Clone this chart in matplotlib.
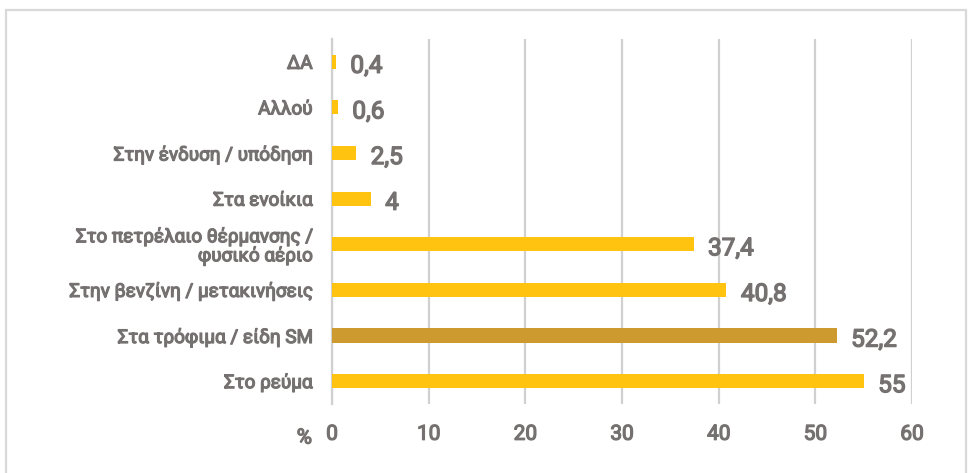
import matplotlib.pyplot as plt
import matplotlib.patheffects as pe
from matplotlib.patches import Rectangle

categories = ["ΔΑ", "Αλλού", "Στην ένδυση / υπόδηση", "Στα ενοίκια",
              "Στο πετρέλαιο θέρμανσης /\nφυσικό αέριο", "Στην βενζίνη / μετακινήσεις",
              "Στα τρόφιμα / είδη SM", "Στο ρεύμα"]
values = [0.4, 0.6, 2.5, 4, 37.4, 40.8, 52.2, 55]
value_labels = ["0,4", "0,6", "2,5", "4", "37,4", "40,8", "52,2", "55"]
highlight = "Στα τρόφιμα / είδη SM"

gray = "#767171"
plt.rcParams['font.family'] = ['Roboto', 'DejaVu Sans']
bold = [pe.withStroke(linewidth=0.9, foreground=gray)]

fig = plt.figure(figsize=(9.72, 4.73), dpi=100)
ax = fig.add_axes([0.3416, 0.146, 0.5967, 0.7717])

colors = ["#CC9A2E" if c == highlight else "#FFC310" for c in categories]
pos = list(range(len(categories)))
ax.barh(pos, values, height=0.31, color=colors, zorder=3)
for p, v, lab in zip(pos, values, value_labels):
    ax.text(v + 1.5, p + 0.1, lab, va="center", ha="left", fontsize=17.5,
            color=gray, path_effects=[pe.withStroke(linewidth=1.0, foreground=gray)])

ax.set_ylim(7.5, -0.5)
ax.set_xlim(0, 60)
ax.set_xticks(range(0, 61, 10))
ax.set_yticks(pos)
ax.set_yticklabels(categories, fontsize=13.6, color=gray, linespacing=1.0)
for t in ax.get_yticklabels():
    t.set_path_effects(bold)
for t in ax.get_xticklabels():
    t.set_fontsize(15)
    t.set_color(gray)
    t.set_path_effects(bold)
ax.tick_params(axis="both", length=0)
ax.tick_params(axis="x", pad=15)
ax.tick_params(axis="y", pad=14)
ax.grid(axis="x", color="#D0D0D0", linewidth=1.6, zorder=0)
for s in ["top", "right", "bottom"]:
    ax.spines[s].set_visible(False)
ax.spines["left"].set_color("#D0D0D0")
ax.spines["left"].set_linewidth(1.6)

fig.text(312 / 972, 1 - 438 / 473, "%", ha="right", va="center", fontsize=15,
         color=gray, path_effects=bold)

fig.patches.append(Rectangle((6 / 972, -0.02), 960 / 972, 1 - 10 / 473 + 0.02,
                             transform=fig.transFigure, fill=False,
                             edgecolor="#D9D9D9", linewidth=1.6))

fig.savefig("out.png", dpi=100)
